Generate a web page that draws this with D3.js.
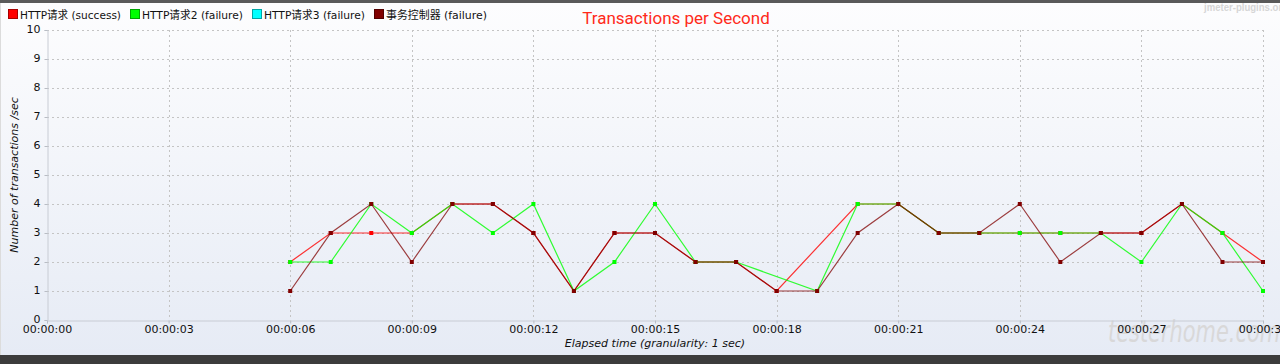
<!DOCTYPE html>
<html>
<head>
<meta charset="utf-8">
<script src="https://cdn.jsdelivr.net/npm/d3@7"></script>
<style>
  html, body { margin: 0; padding: 0; background: #fff; }
  svg { display: block; }
</style>
</head>
<body>
<svg id="chart" width="1280" height="364"></svg>
<script>
// elapsed seconds of each sample
var seconds = [6, 7, 8, 9, 10, 11, 12, 13, 14, 15, 16, 17, 18, 19, 20, 21, 22, 23, 24, 25, 26, 27, 28, 29, 30];

// transactions per second, null = no sample in that second
var httpSuccess = [2, 3, 3, 3, 4, 4, 3, 1, 3, 3, 2, 2, 1, null, 4, 4, 3, 3, 3, 3, 3, 3, 4, 3, 2];
var http2Failure = [2, 2, 4, 3, 4, 3, 4, 1, 2, 4, 2, 2, null, 1, 4, 4, 3, 3, 3, 3, 3, 2, 4, 3, 1];
var http3Failure = [];
var txFailure = [1, 3, 4, 2, 4, 4, 3, 1, 3, 3, 2, 2, 1, 1, 3, 4, 3, 3, 4, 2, 3, 3, 4, 2, 2];

var seriesNames = ["HTTP请求 (success)", "HTTP请求2 (failure)", "HTTP请求3 (failure)", "事务控制器 (failure)"];
var seriesColors = ["#ff0000", "#00ff00", "#00ffff", "#800000"];
var seriesValues = [httpSuccess, http2Failure, http3Failure, txFailure];

var xTicks = [0, 3, 6, 9, 12, 15, 18, 21, 24, 27, 30];
var yTicks = [0, 1, 2, 3, 4, 5, 6, 7, 8, 9, 10];

var tickFont = "'DejaVu Sans', 'Noto Sans CJK SC', sans-serif";

var svg = d3.select("#chart");
var W = 1280, H = 364;
var margin = { left: 47, right: 17, top: 30, bottom: 44 };

var x = d3.scaleLinear().domain([0, 30]).range([margin.left, W - margin.right]);
var y = d3.scaleLinear().domain([0, 10]).range([H - margin.bottom, margin.top]);

var fmtTime = function(s) {
  var hh = Math.floor(s / 3600), mm = Math.floor(s / 60) % 60, ss = s % 60;
  return [hh, mm, ss].map(function(v) { return (v < 10 ? "0" : "") + v; }).join(":");
};

// panel background
var defs = svg.append("defs");
var grad = defs.append("linearGradient")
  .attr("id", "bg").attr("x1", 0).attr("y1", 0).attr("x2", 0).attr("y2", 1);
grad.append("stop").attr("offset", "0%").attr("stop-color", "#fdfdfe");
grad.append("stop").attr("offset", "100%").attr("stop-color", "#e6ebf5");

svg.append("rect").attr("x", 0).attr("y", 0).attr("width", W).attr("height", H).attr("fill", "#dcdcdc");
svg.append("rect").attr("x", 1).attr("y", 3).attr("width", W - 1).attr("height", 352).attr("fill", "url(#bg)");
svg.append("rect").attr("x", 0).attr("y", 0).attr("width", W).attr("height", 3).attr("fill", "#5a5a5a");
svg.append("rect").attr("x", 0).attr("y", 355).attr("width", W).attr("height", 9).attr("fill", "#3c3c3c");

// watermarks (behind everything else)
svg.append("text")
  .attr("x", 1204).attr("y", 11)
  .attr("textLength", 84).attr("lengthAdjust", "spacingAndGlyphs")
  .style("font-family", "'Liberation Sans Narrow', sans-serif").style("font-size", "10px")
  .style("font-weight", "bold")
  .attr("fill", "#d6d6d6")
  .text("jmeter-plugins.org");

svg.append("text")
  .attr("x", 1108).attr("y", 342)
  .attr("textLength", 172).attr("lengthAdjust", "spacingAndGlyphs")
  .style("font-family", "'DejaVu Sans', sans-serif").style("font-size", "30px")
  .style("font-style", "italic").style("font-weight", "200")
  .attr("fill", "#cdc8c2").attr("opacity", 0.55)
  .text("testerhome.com");

// grid
var grid = svg.append("g").attr("class", "grid");
grid.selectAll(".hgrid")
  .data(yTicks.filter(function(d) { return d > 0; }))
  .enter().append("line")
  .attr("x1", x(0)).attr("x2", x(30))
  .attr("y1", function(d) { return Math.round(y(d)) + 0.5; })
  .attr("y2", function(d) { return Math.round(y(d)) + 0.5; })
  .attr("stroke", "#c4c4c4").attr("stroke-dasharray", "2,3");
grid.selectAll(".vgrid")
  .data(xTicks.filter(function(d) { return d > 0; }))
  .enter().append("line")
  .attr("y1", y(10)).attr("y2", y(0))
  .attr("x1", function(d) { return Math.round(x(d)) + 0.5; })
  .attr("x2", function(d) { return Math.round(x(d)) + 0.5; })
  .attr("stroke", "#c4c4c4").attr("stroke-dasharray", "2,3");

// axes
var xAxis = d3.axisBottom(x).tickValues(xTicks).tickFormat(fmtTime).tickSize(3).tickPadding(2);
var yAxis = d3.axisLeft(y).tickValues(yTicks).tickFormat(d3.format("d")).tickSize(3).tickPadding(4);

var gx = svg.append("g").attr("transform", "translate(0," + (Math.round(y(0)) + 0.5) + ")").call(xAxis);
var gy = svg.append("g").attr("transform", "translate(" + (Math.round(x(0)) + 0.5) + ",0)").call(yAxis);
[gx, gy].forEach(function(g) {
  g.select(".domain").attr("stroke", "#c8ccd4");
  g.selectAll(".tick line").attr("stroke", "#b8bcc4");
  g.selectAll(".tick text").attr("fill", "#111").style("font-family", tickFont).style("font-size", "11px");
});
gy.selectAll(".tick text").attr("dy", "0.25em");

// axis titles
svg.append("text")
  .attr("transform", "translate(18," + ((y(0) + y(10)) / 2) + ") rotate(-90)")
  .attr("text-anchor", "middle")
  .style("font-family", tickFont).style("font-size", "11px").style("font-style", "italic")
  .attr("fill", "#111")
  .text("Number of transactions /sec");

svg.append("text")
  .attr("x", (x(0) + x(30)) / 2).attr("y", 347)
  .attr("text-anchor", "middle")
  .style("font-family", tickFont).style("font-size", "11px").style("font-style", "italic")
  .attr("fill", "#111")
  .text("Elapsed time (granularity: 1 sec)");

// title
svg.append("text")
  .attr("x", 676).attr("y", 24)
  .attr("text-anchor", "middle")
  .style("font-family", "'Liberation Sans Narrow', 'Roboto', sans-serif").style("font-size", "17px")
  .attr("fill", "#ff2a1a")
  .text("Transactions per Second");

// series
var line = d3.line()
  .x(function(d) { return x(d.s); })
  .y(function(d) { return y(d.v); });

var plot = svg.append("g").attr("class", "series");
seriesValues.forEach(function(values, i) {
  var pts = values.map(function(v, j) { return { s: seconds[j], v: v }; })
    .filter(function(d) { return d.v !== null && d.v !== undefined; });
  if (!pts.length) { return; }

  plot.append("path")
    .attr("d", line(pts))
    .attr("fill", "none")
    .attr("stroke", seriesColors[i])
    .attr("stroke-width", 1.2)
    .attr("stroke-opacity", i === 3 ? 0.75 : 0.8);

  plot.selectAll(".pt" + i)
    .data(pts)
    .enter().append("rect")
    .attr("x", function(d) { return x(d.s) - 2; })
    .attr("y", function(d) { return y(d.v) - 2; })
    .attr("width", 4).attr("height", 4)
    .attr("fill", seriesColors[i]);
});

// legend
var legendX = [8, 130, 252, 374];
var legend = svg.append("g").attr("class", "legend");
seriesNames.forEach(function(name, i) {
  var g = legend.append("g").attr("transform", "translate(" + legendX[i] + ",9)");
  g.append("rect").attr("x", 0.5).attr("y", 0.5).attr("width", 9).attr("height", 9)
    .attr("fill", seriesColors[i]).attr("stroke", d3.color(seriesColors[i]).darker(1.2));
  g.append("text").attr("x", 12).attr("y", 9.5)
    .attr("textLength", 101).attr("lengthAdjust", "spacingAndGlyphs")
    .style("font-family", tickFont).style("font-size", "11px")
    .attr("fill", "#111")
    .text(name);
});
</script>
</body>
</html>
